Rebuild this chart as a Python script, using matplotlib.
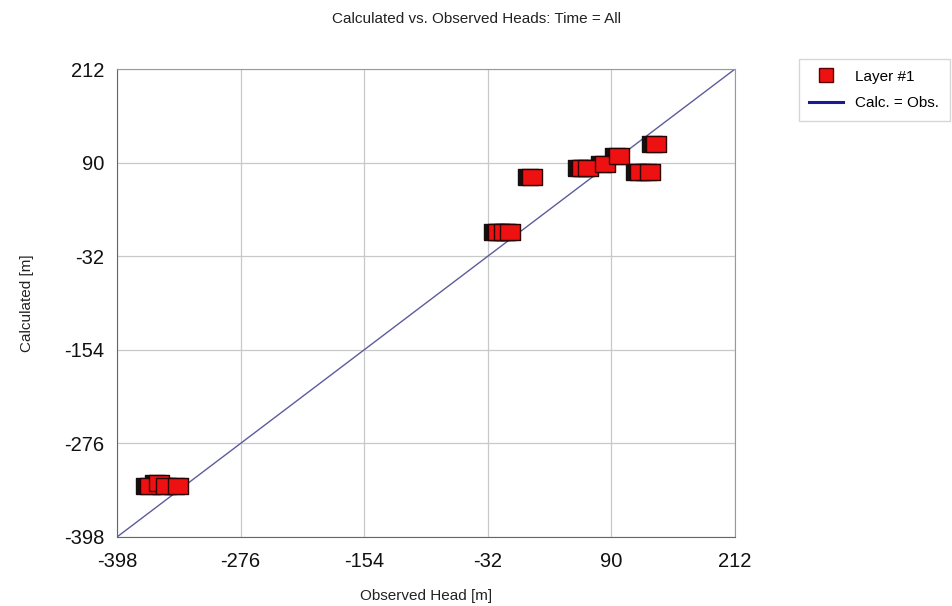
import matplotlib.pyplot as plt
import matplotlib.transforms as mtransforms
from matplotlib.lines import Line2D

plt.rcParams['font.family'] = ['Liberation Sans', 'DejaVu Sans']
plt.rcParams['axes.unicode_minus'] = False

# observed vs calculated heads
observed = [-365, -357, -350, -338, -22, -16, -10, 12, 61, 67, 84, 98, 118, 128, 134]
calculated = [-332, -327, -332, -332, 0, 0, 0, 72, 83, 83, 88, 99, 78, 78, 114]
ticks = [-398, -276, -154, -32, 90, 212]

# slightly flat square, as in the original
rect = [(-1, -0.8), (1, -0.8), (1, 0.8), (-1, 0.8), (-1, -0.8)]

fig = plt.figure(figsize=(9.52, 6.06), dpi=100)
ax = fig.add_axes([0.1229, 0.1139, 0.649, 0.772])

# 1:1 line
ax.plot([-398, 212], [-398, 212], color='#5c5c9c', lw=1.0, zorder=2)

# shadowed markers
shadow = mtransforms.offset_copy(ax.transData, fig, x=-4, y=0, units='dots')
ax.scatter(observed, calculated, marker=rect, s=210, color='#151010',
           edgecolor='#151010', transform=shadow, zorder=3)
ax.scatter(observed, calculated, marker=rect, s=210, color='#ee1111',
           edgecolor='#2a0000', linewidth=1.0, zorder=4)

ax.set_xlim(-398, 212)
ax.set_ylim(-398, 212)
ax.set_xticks(ticks)
ax.set_yticks(ticks)
ax.tick_params(labelsize=14.5, length=0, colors='#111111')
ax.tick_params(axis='x', pad=11)
ax.tick_params(axis='y', pad=9)
ax.grid(True, color='#c8c8c8', lw=0.9)
for s in ax.spines.values():
    s.set_color('#999999')
ax.spines['left'].set_color('#666666')
ax.spines['bottom'].set_color('#666666')

ax.set_xlabel('Observed Head [m]', fontsize=11, color='#222222', labelpad=13)
ax.set_ylabel('Calculated [m]', fontsize=11, color='#222222', labelpad=22)
fig.text(0.5, 0.968, 'Calculated vs. Observed Heads: Time = All', ha='center',
         va='center', fontsize=11, color='#222222')

handles = [
    Line2D([], [], marker='s', ls='none', markersize=10, markerfacecolor='#ee1111',
           markeredgecolor='#5a0000', label='Layer #1'),
    Line2D([], [], color='#1a1a99', lw=2.2, label='Calc. = Obs.'),
]
fig.legend(handles=handles, loc='upper left', bbox_to_anchor=(0.831, 0.915),
           fontsize=11, frameon=True, fancybox=False, edgecolor='#cccccc',
           handlelength=2.2, borderpad=0.7, labelspacing=0.8)

fig.savefig('out.png', dpi=100)
